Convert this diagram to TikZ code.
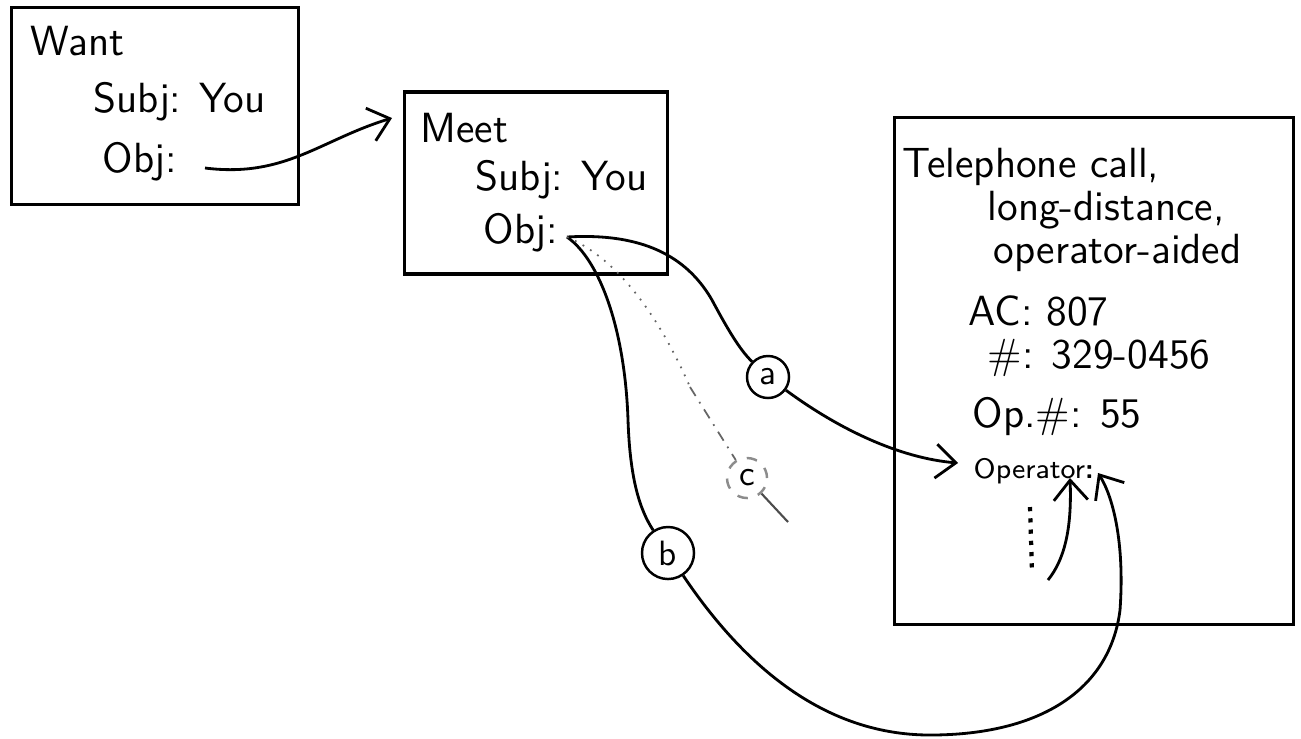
\documentclass[tikz,border=0pt]{standalone}
\usepackage{tikz}
\usetikzlibrary{arrows.meta,positioning}

\begin{document}
\begin{tikzpicture}[x=0.01cm, y=-0.01cm, font=\sffamily\large,
    frame/.style={draw, line width=0.9pt, minimum width=#1, inner sep=0pt},
    txt/.style={anchor=base west, inner sep=0pt},
    tag/.style={draw, circle, line width=0.7pt, inner sep=0pt, minimum size=0.42cm, font=\sffamily\normalsize},
    link/.style={line width=0.8pt},
    tip/.style={-{Straight Barb[length=2mm, width=3.4mm]}}]

\useasboundingbox (0,0) rectangle (1301,738);

% Frames
\node[frame=2.86cm, minimum height=1.97cm] (want) at (155,106) {};
\node[frame=2.63cm, minimum height=1.82cm] (meet) at (536,183) {};
\node[frame=3.98cm, minimum height=5.07cm] (phone) at (1094,371) {};

% Want frame
\node[txt] (wanthd) at (30,55) {Want};
\node[txt] (wantsubj) at (93,112) {Subj: You};
\node[txt] (wantobj) at (102,172) {Obj:};

% Meet frame
\node[txt] (meethd) at (420,142) {Meet};
\node[txt] (meetsubj) at (475,190) {Subj: You};
\node[txt] (meetobj) at (483,243) {Obj:};

% Telephone frame
\node[txt] (telhd) at (902,177) {Telephone call,};
\node[txt] (telld) at (987,220) {long-distance,};
\node[txt] (telop) at (993,263) {operator-aided};
\node[txt] (telac) at (968,325) {AC: 807};
\node[txt] (telnum) at (987,368) {\#: 329-0456};
\node[txt] (telopn) at (972,427) {Op.\#: 55};
\node[txt, font=\sffamily\footnotesize] (telopr) at (973,478) {Operator\textbf{:}};

% Tags
\node[tag] (ta) at (768,377) {a};
\node[tag, minimum size=0.52cm] (tb) at (668,553) {b};
\node[tag, draw=black!45, dashed, minimum size=0.40cm] (tc) at (747,478) {c};

% Ends
\coordinate (wantpt) at (205,168);
\coordinate (meetin) at (392,118);
\coordinate (objpt) at (567,237);
\coordinate (opa) at (958,463);
\coordinate (opb) at (1098,473);
\coordinate (opc) at (1070,478);
\coordinate (cmid) at (690,387);
\coordinate (cend) at (788,522);
\coordinate (dottop) at (1030,507);
\coordinate (dotbot) at (1032,572);
\coordinate (sa) at (1048,580);

% Connectors
\draw[link, tip] (wantpt) .. controls (285,178) and (320,140) .. (meetin);
\draw[link] (objpt) .. controls (650,232) and (690,262) .. (712,300)
    .. controls (728,330) and (740,350) .. (ta);
\draw[link, tip] (ta) .. controls (840,430) and (900,458) .. (opa);
\draw[link] (objpt) .. controls (600,260) and (625,330) .. (628,420)
    .. controls (630,480) and (640,510) .. (tb);
\draw[link, tip] (tb) .. controls (740,660) and (820,735) .. (930,735)
    .. controls (1040,735) and (1110,690) .. (1120,610)
    .. controls (1125,540) and (1112,495) .. (opb);
\draw[line width=0.5pt, black!60, dotted] (objpt) .. controls (625,262) and (665,330) .. (cmid);
\draw[line width=0.5pt, black!60, dash dot] (cmid) -- (tc);
\draw[line width=0.6pt, black!70] (tc) -- (cend);
\draw[line width=1.2pt, dotted] (dottop) -- (dotbot);
\draw[link, tip] (sa) .. controls (1064,560) and (1072,530) .. (opc);

\end{tikzpicture}
\end{document}
